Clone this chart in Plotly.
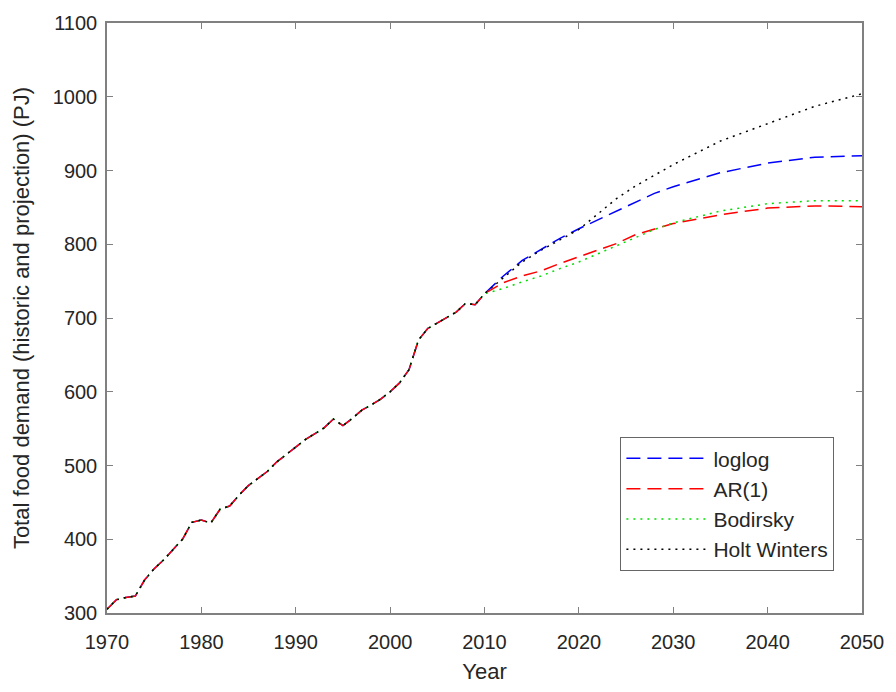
import plotly.graph_objects as go

# Historic data (1970-2010)
hist_years = list(range(1970, 2011))
hist_values = [305, 318, 321, 323, 345, 360, 372, 386, 400, 423,
               426, 422, 441, 445, 460, 473, 482, 492, 505, 515,
               526, 535, 543, 551, 563, 554, 564, 575, 582, 590,
               600, 612, 630, 670, 686, 693, 700, 708, 720, 718,
               733]

# Projection years (2010-2050)
proj_years = [2012, 2014, 2016, 2018, 2020, 2022, 2024, 2026, 2028, 2030,
              2035, 2040, 2045, 2050]
loglog = [757, 778, 793, 808, 821, 833, 845, 858, 869, 878, 897, 910, 918, 920]
ar1 = [748, 757, 764, 774, 783, 791, 801, 813, 821, 828, 840, 849, 852, 851]
bodirsky = [740, 749, 757, 767, 776, 787, 798, 810, 820, 829, 845, 855, 859, 859]
holt_winters = [755, 776, 792, 806, 820, 841, 862, 879, 894, 908, 940, 963, 987, 1004]

series_names = ["loglog", "AR(1)", "Bodirsky", "Holt Winters"]
series_values = [loglog, ar1, bodirsky, holt_winters]
colors = ["#0000ff", "#ff0000", "#00dd00", "#000000"]
dashes = ["14px,7px", "14px,7px", "2px,5px", "2px,5px"]

FONT = "Liberation Sans, Arial, sans-serif"
TEXT = "#262626"
AXIS = "#808080"

fig = go.Figure()
for name, vals, c, d in zip(series_names, series_values, colors, dashes):
    fig.add_trace(go.Scatter(
        x=hist_years + proj_years,
        y=hist_values + vals,
        mode="lines",
        name=name,
        line=dict(color=c, dash=d, width=1.5),
    ))

fig.update_layout(
    width=896, height=692,
    margin=dict(l=107, r=30, t=15, b=76),
    paper_bgcolor="white", plot_bgcolor="white",
    font=dict(family=FONT, size=20, color=TEXT),
    showlegend=True,
    legend=dict(
        x=0.68, y=0.298, xanchor="left", yanchor="top",
        bgcolor="white", bordercolor="#666666", borderwidth=1,
        font=dict(size=21, color=TEXT),
        itemwidth=82,
        tracegroupgap=0,
    ),
)
fig.update_xaxes(
    range=[1970, 2050], tickmode="linear", tick0=1970, dtick=10,
    showgrid=False, zeroline=False,
    showline=True, linecolor=AXIS, linewidth=1.5, mirror="ticks",
    ticks="inside", ticklen=6, tickcolor=AXIS, tickwidth=1,
    tickfont=dict(size=20, color=TEXT),
    ticklabelstandoff=10,
    title=dict(text="Year", font=dict(size=22, color=TEXT), standoff=12),
)
fig.update_yaxes(
    range=[300, 1100], tickmode="linear", tick0=300, dtick=100,
    showgrid=False, zeroline=False,
    showline=True, linecolor=AXIS, linewidth=1.5, mirror="ticks",
    ticks="inside", ticklen=6, tickcolor=AXIS, tickwidth=1,
    tickfont=dict(size=20, color=TEXT),
    ticklabelstandoff=4,
    title=dict(text="Total food demand (historic and projection) (PJ)",
               font=dict(size=22, color=TEXT), standoff=17),
)

fig.write_html(
    "out.html",
    config={"displayModeBar": False},
    post_script="document.body.style.margin='0';document.body.style.overflow='hidden';",
)
